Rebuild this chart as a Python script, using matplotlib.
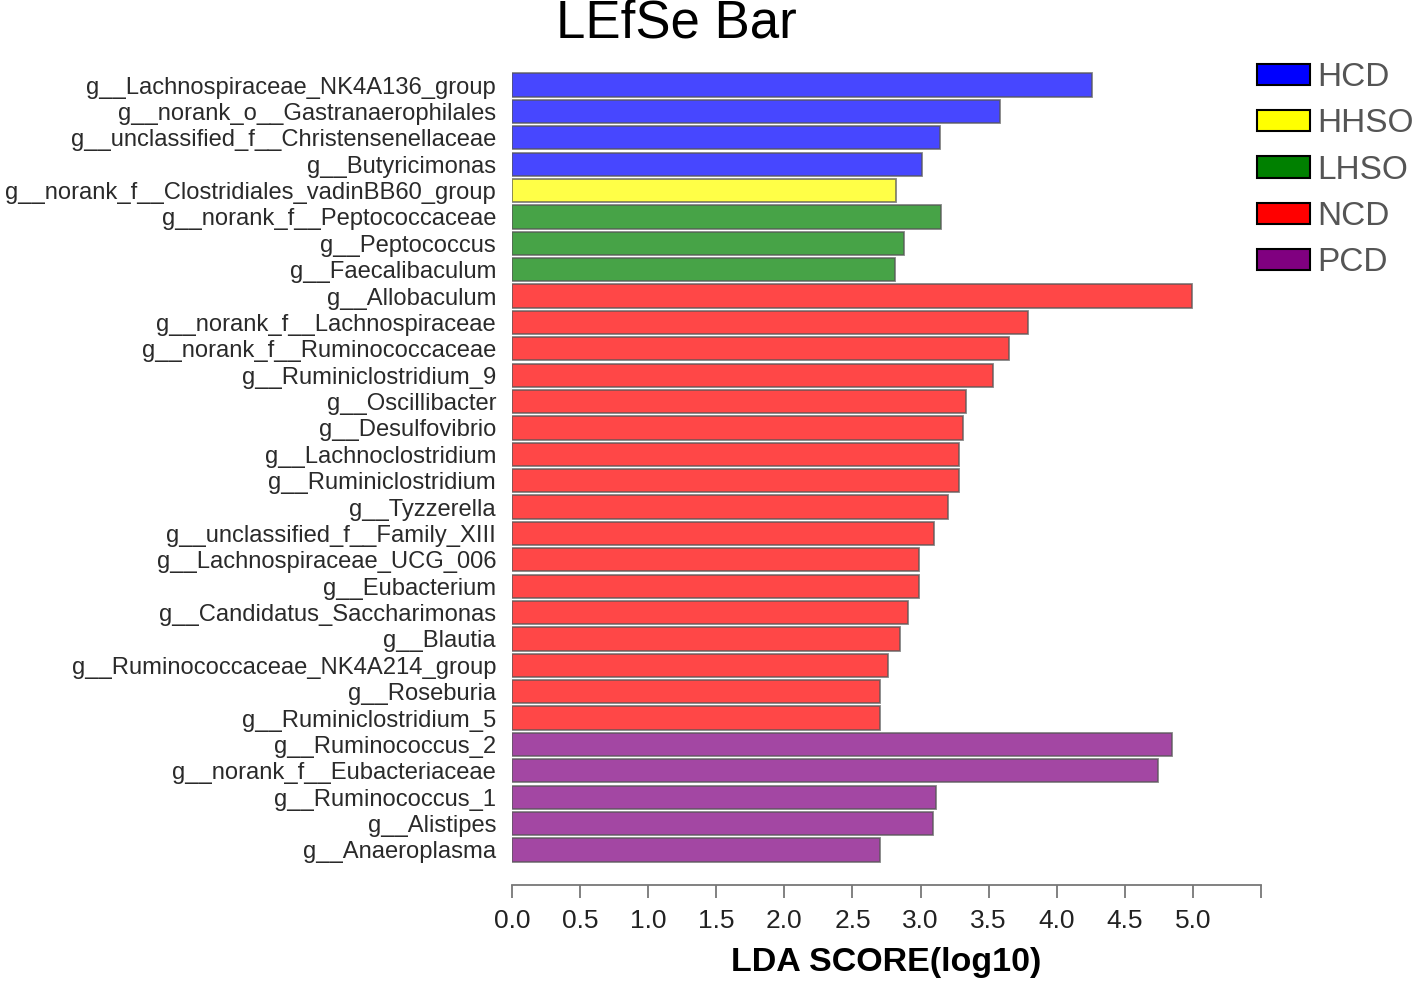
import matplotlib
matplotlib.use("Agg")
import matplotlib.pyplot as plt
from matplotlib.patches import Patch

plt.rcParams["font.family"] = ["Liberation Sans", "DejaVu Sans"]

taxa = [
    "g__Lachnospiraceae_NK4A136_group",
    "g__norank_o__Gastranaerophilales",
    "g__unclassified_f__Christensenellaceae",
    "g__Butyricimonas",
    "g__norank_f__Clostridiales_vadinBB60_group",
    "g__norank_f__Peptococcaceae",
    "g__Peptococcus",
    "g__Faecalibaculum",
    "g__Allobaculum",
    "g__norank_f__Lachnospiraceae",
    "g__norank_f__Ruminococcaceae",
    "g__Ruminiclostridium_9",
    "g__Oscillibacter",
    "g__Desulfovibrio",
    "g__Lachnoclostridium",
    "g__Ruminiclostridium",
    "g__Tyzzerella",
    "g__unclassified_f__Family_XIII",
    "g__Lachnospiraceae_UCG_006",
    "g__Eubacterium",
    "g__Candidatus_Saccharimonas",
    "g__Blautia",
    "g__Ruminococcaceae_NK4A214_group",
    "g__Roseburia",
    "g__Ruminiclostridium_5",
    "g__Ruminococcus_2",
    "g__norank_f__Eubacteriaceae",
    "g__Ruminococcus_1",
    "g__Alistipes",
    "g__Anaeroplasma",
]

lda = [4.26, 3.585, 3.145, 3.01, 2.82,
       3.15, 2.88, 2.815,
       4.99, 3.79, 3.65, 3.53, 3.335, 3.31, 3.285, 3.285, 3.20, 3.10,
       2.99, 2.99, 2.91, 2.85, 2.76, 2.705, 2.705,
       4.85, 4.74, 3.115, 3.09, 2.705]

groups = ["HCD"] * 4 + ["HHSO"] + ["LHSO"] * 3 + ["NCD"] * 17 + ["PCD"] * 5

group_names = ["HCD", "HHSO", "LHSO", "NCD", "PCD"]
group_colors = {"HCD": "#0000ff", "HHSO": "#ffff00", "LHSO": "#008000",
                "NCD": "#ff0000", "PCD": "#800080"}

fig = plt.figure(figsize=(14.16, 9.83), dpi=100)
ax = fig.add_axes([512 / 1416, 98 / 983, 749 / 1416, 825 / 983])

ypos = list(range(len(taxa)))
ax.barh(ypos, lda, height=0.88,
        color=[group_colors[g] for g in groups], alpha=0.72,
        edgecolor="#555555", linewidth=1.3)

ax.set_ylim(30.33, -0.95)
ax.set_xlim(0, 5.5)
ax.set_yticks(ypos)
ax.set_yticklabels(taxa, fontsize=17.1, color="#2a2a2a")
ax.tick_params(axis="y", length=0, pad=11.5)

xt = [i * 0.5 for i in range(12)]
ax.set_xticks(xt)
ax.set_xticklabels(["%.1f" % v for v in xt[:-1]] + [""], fontsize=19, color="#222222")
ax.tick_params(axis="x", direction="out", length=9, width=1.3, color="#777777", pad=8)

for s in ["top", "right", "left"]:
    ax.spines[s].set_visible(False)
ax.spines["bottom"].set_color("#777777")
ax.spines["bottom"].set_linewidth(1.3)

ax.set_xlabel("LDA SCORE(log10)", fontsize=24.5, fontweight="bold", labelpad=10)

fig.text(676 / 1416, 1 - 38 / 983, "LEfSe Bar", fontsize=38, ha="center", va="baseline")

handles = [Patch(facecolor=group_colors[g], edgecolor="black", linewidth=1.5) for g in group_names]
fig.legend(handles, group_names, loc="upper left",
           bbox_to_anchor=(1257 / 1416, 1 - 62 / 983), frameon=False,
           fontsize=24, labelcolor="#555555", handlelength=1.6, handleheight=0.6,
           handletextpad=0.2, labelspacing=0.46, borderpad=0, borderaxespad=0)

fig.savefig("out.png", dpi=100)
